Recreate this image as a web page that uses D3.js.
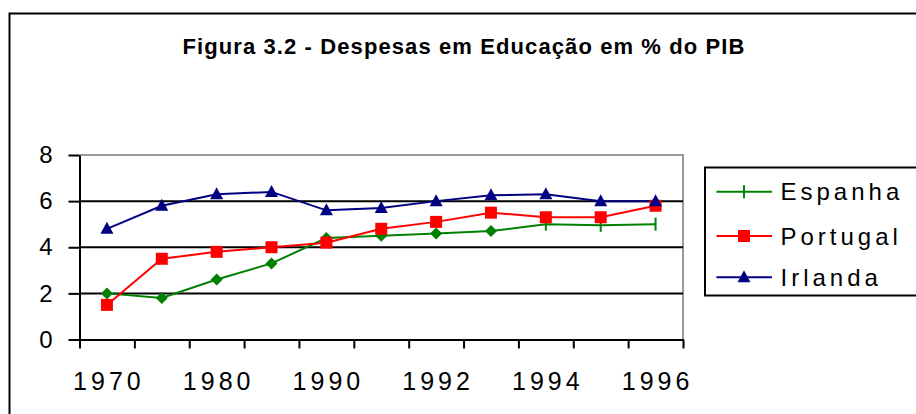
<!DOCTYPE html>
<html>
<head>
<meta charset="utf-8">
<script src="https://cdn.jsdelivr.net/npm/d3@7/dist/d3.min.js"></script>
<style>
  html, body { margin: 0; padding: 0; background: #fff; }
  svg { display: block; font-family: "Liberation Sans", Arial, sans-serif; }
</style>
</head>
<body>
<svg id="chart" width="916" height="414"></svg>
<script>
// ---- Data ----
const title = "Figura 3.2 - Despesas em Educação em % do PIB";
const categories = ["1970", "1975", "1980", "1985", "1990", "1991", "1992", "1993", "1994", "1995", "1996"];
const shownLabels = ["1970", "1980", "1990", "1992", "1994", "1996"];
const espanha  = [2.0, 1.8, 2.6, 3.3, 4.4, 4.5, 4.6, 4.7, 5.0, 4.95, 5.0];
const portugal = [1.5, 3.5, 3.8, 4.0, 4.2, 4.8, 5.1, 5.5, 5.3, 5.3, 5.8];
const irlanda  = [4.8, 5.8, 6.3, 6.4, 5.6, 5.7, 6.0, 6.25, 6.3, 6.0, 6.0];
const seriesNames = ["Espanha", "Portugal", "Irlanda"];
const yTicks = [0, 2, 4, 6, 8];

// ---- Layout ----
const svg = d3.select("#chart");
const plot = { left: 79.5, right: 683, top: 155, bottom: 339.5 };
const x = d3.scaleBand().domain(categories).range([plot.left, plot.right]).padding(0);
const xi = d3.scaleLinear().domain([0, categories.length]).range([plot.left, plot.right]);
const y = d3.scaleLinear().domain([0, 8]).range([plot.bottom, plot.top]);
const cx = c => x(c) + x.bandwidth() / 2;

const series = [
  { name: seriesNames[0], values: espanha,  color: "#008000", marker: "diamond" },
  { name: seriesNames[1], values: portugal, color: "#FF0000", marker: "square" },
  { name: seriesNames[2], values: irlanda,  color: "#000080", marker: "triangle" }
];
const ESPANHA_DIAMONDS = 8; // first points of Espanha drawn as diamonds, rest as ticks

// outer chart frame
svg.append("rect")
  .attr("x", 9.5).attr("y", 13.5).attr("width", 1000).attr("height", 500)
  .attr("fill", "none").attr("stroke", "#000").attr("stroke-width", 2);

// title
svg.append("text")
  .attr("x", 464).attr("y", 54)
  .attr("text-anchor", "middle")
  .attr("font-weight", "bold").attr("font-size", 22)
  .attr("letter-spacing", 1.1)
  .text(title);

// plot area border (grey top/right)
svg.append("path")
  .attr("d", `M${plot.left},${plot.top}H${plot.right}V${plot.bottom}`)
  .attr("fill", "none").attr("stroke", "#999").attr("stroke-width", 2);

// gridlines
svg.append("g").selectAll("line").data(yTicks.filter(t => t > 0 && t < 8)).join("line")
  .attr("x1", plot.left).attr("x2", plot.right)
  .attr("y1", d => y(d)).attr("y2", d => y(d))
  .attr("stroke", "#000").attr("stroke-width", 2);

// y axis
const yAxis = svg.append("g").attr("transform", `translate(${plot.left},0)`)
  .call(d3.axisLeft(y).tickValues(yTicks).tickSize(11).tickPadding(16).tickSizeOuter(0).tickFormat(d3.format("d")));
yAxis.select(".domain").attr("stroke-width", 2).attr("stroke", "#000");
yAxis.selectAll(".tick line").attr("stroke-width", 2).attr("stroke", "#000");
yAxis.selectAll(".tick text").attr("font-size", 24).attr("fill", "#000")
  .attr("font-family", "Liberation Sans, Arial, sans-serif");

// x axis ticks at category boundaries
const xTickAxis = svg.append("g").attr("transform", `translate(0,${plot.bottom})`)
  .call(d3.axisBottom(xi).tickValues(d3.range(categories.length + 1)).tickSize(9).tickSizeOuter(0).tickFormat(""));
xTickAxis.select(".domain").attr("stroke-width", 2).attr("stroke", "#000");
xTickAxis.selectAll(".tick line").attr("stroke-width", 2).attr("stroke", "#000");

// x axis labels at category centers
const xLabelAxis = svg.append("g").attr("transform", `translate(0,${plot.bottom})`)
  .call(d3.axisBottom(x).tickSize(0).tickPadding(33)
    .tickFormat(d => shownLabels.includes(d) ? d : ""));
xLabelAxis.select(".domain").remove();
xLabelAxis.selectAll(".tick text")
  .attr("font-size", 25).attr("fill", "#000")
  .attr("font-family", "Liberation Sans, Arial, sans-serif")
  .attr("letter-spacing", 4).attr("dx", 2);

// lines
const line = d3.line().x((d, i) => cx(categories[i])).y(d => y(d));
series.forEach(s => {
  svg.append("path").datum(s.values)
    .attr("d", line).attr("fill", "none")
    .attr("stroke", s.color).attr("stroke-width", 2);
});

// markers
function drawMarker(g, type, px, py, color) {
  if (type === "square") {
    g.append("rect").attr("x", px - 6).attr("y", py - 6).attr("width", 12).attr("height", 12).attr("fill", color);
  } else if (type === "triangle") {
    g.append("path").attr("d", `M${px},${py - 7}L${px + 6.5},${py + 5}L${px - 6.5},${py + 5}Z`).attr("fill", color);
  } else if (type === "diamond") {
    g.append("path").attr("d", `M${px},${py - 6}L${px + 6},${py}L${px},${py + 6}L${px - 6},${py}Z`).attr("fill", color);
  } else if (type === "tick" || type === "plus") {
    g.append("line").attr("x1", px).attr("x2", px).attr("y1", py - 6.5).attr("y2", py + 6.5)
      .attr("stroke", color).attr("stroke-width", 2);
  }
}
const mg = svg.append("g");
series.forEach((s, si) => {
  s.values.forEach((v, i) => {
    let type = s.marker;
    if (si === 0 && i >= ESPANHA_DIAMONDS) type = "tick";
    drawMarker(mg, type, cx(categories[i]), y(v), s.color);
  });
});

// legend
const leg = svg.append("g");
leg.append("rect").attr("x", 705).attr("y", 167.5).attr("width", 400).attr("height", 128)
  .attr("fill", "#fff").attr("stroke", "#000").attr("stroke-width", 2);
const legRows = [191.7, 236, 277.3];
const legMarkers = ["plus", "square", "triangle"];
series.forEach((s, i) => {
  const ly = legRows[i];
  leg.append("line").attr("x1", 716.5).attr("x2", 772).attr("y1", ly).attr("y2", ly)
    .attr("stroke", s.color).attr("stroke-width", 2);
  drawMarker(leg, legMarkers[i], 744, ly, s.color);
  leg.append("text").attr("x", 780.5).attr("y", ly + 8.6)
    .attr("font-size", 24).attr("letter-spacing", 4).attr("fill", "#000")
    .text(s.name);
});
</script>
</body>
</html>
